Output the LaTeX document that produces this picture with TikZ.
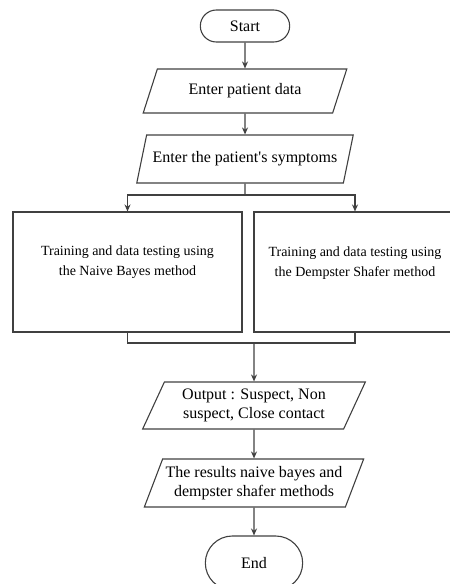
\documentclass[tikz,border=0pt]{standalone}
\usepackage{fontspec}
\setmainfont{Liberation Serif}
\usetikzlibrary{arrows.meta,shapes.geometric,shapes.misc}
\definecolor{flowgrey}{RGB}{64,64,64}
\newcommand{\flowfont}{\fontsize{16}{19.5}\selectfont}
\newcommand{\boxfont}{\fontsize{14}{20}\selectfont}

\begin{document}
\begin{tikzpicture}[x=1pt, y=-1pt, >=Stealth,
    term/.style={rounded rectangle, draw=flowgrey, line width=1.1pt, font=\flowfont},
    inout/.style={trapezium, trapezium left angle=66, trapezium right angle=114,
                  trapezium stretches=true, draw=flowgrey, line width=1.1pt,
                  inner xsep=2pt, align=center, font=\flowfont},
    proc/.style={rectangle, draw=flowgrey, line width=1.1pt, minimum height=120pt,
                 align=center, font=\boxfont},
    wire/.style={draw=flowgrey, line width=1.1pt},
    flow/.style={wire, -{Stealth[length=7pt,width=6pt]}}]
  \useasboundingbox (0,0) rectangle (450,584);

  \node[term, minimum width=96pt, minimum height=32pt] (start) at (245,26) {Start};
  \node[inout, minimum width=204pt, minimum height=44pt] (pdata) at (245,91) {Enter patient data};
  \node[inout, minimum width=217pt, minimum height=48pt] (symp) at (245,159)
       {Enter the patient\textquotesingle s symptoms};
  \node[proc, minimum width=229pt] (nbayes) at (127.5,272)
       {Training and data testing using\\the Naive Bayes method\\[2pt]\mbox{}};
  \node[proc, minimum width=202pt] (dshafer) at (355,272)
       {Training and data testing using\\the Dempster Shafer method\\[0pt]\mbox{}};
  \node[inout, minimum width=223pt, minimum height=47pt] (output) at (254,405.5)
       {Output : Suspect, Non\\suspect, Close contact};
  \node[inout, minimum width=220pt, minimum height=48pt] (results) at (254,483)
       {The results naive bayes and\\dempster shafer methods};
  \node[term, minimum width=104pt, minimum height=54pt] (end) at (254,563) {End};

  % split and merge points
  \coordinate (split) at (245,195);
  \coordinate (merge) at (254,343);

  \draw[flow] (start.south) -- (pdata.north);
  \draw[flow] (pdata.south) -- (symp.north);
  \draw[wire] (symp.south) -- (split);
  \draw[flow] (split) -| (nbayes.north);
  \draw[flow] (split) -| (dshafer.north);
  \draw[wire] (nbayes.south) |- (merge) -| (dshafer.south);
  \draw[flow] (merge) -- (output.north);
  \draw[flow] (output.south) -- (results.north);
  \draw[flow] (results.south) -- (end.north);
\end{tikzpicture}
\end{document}
